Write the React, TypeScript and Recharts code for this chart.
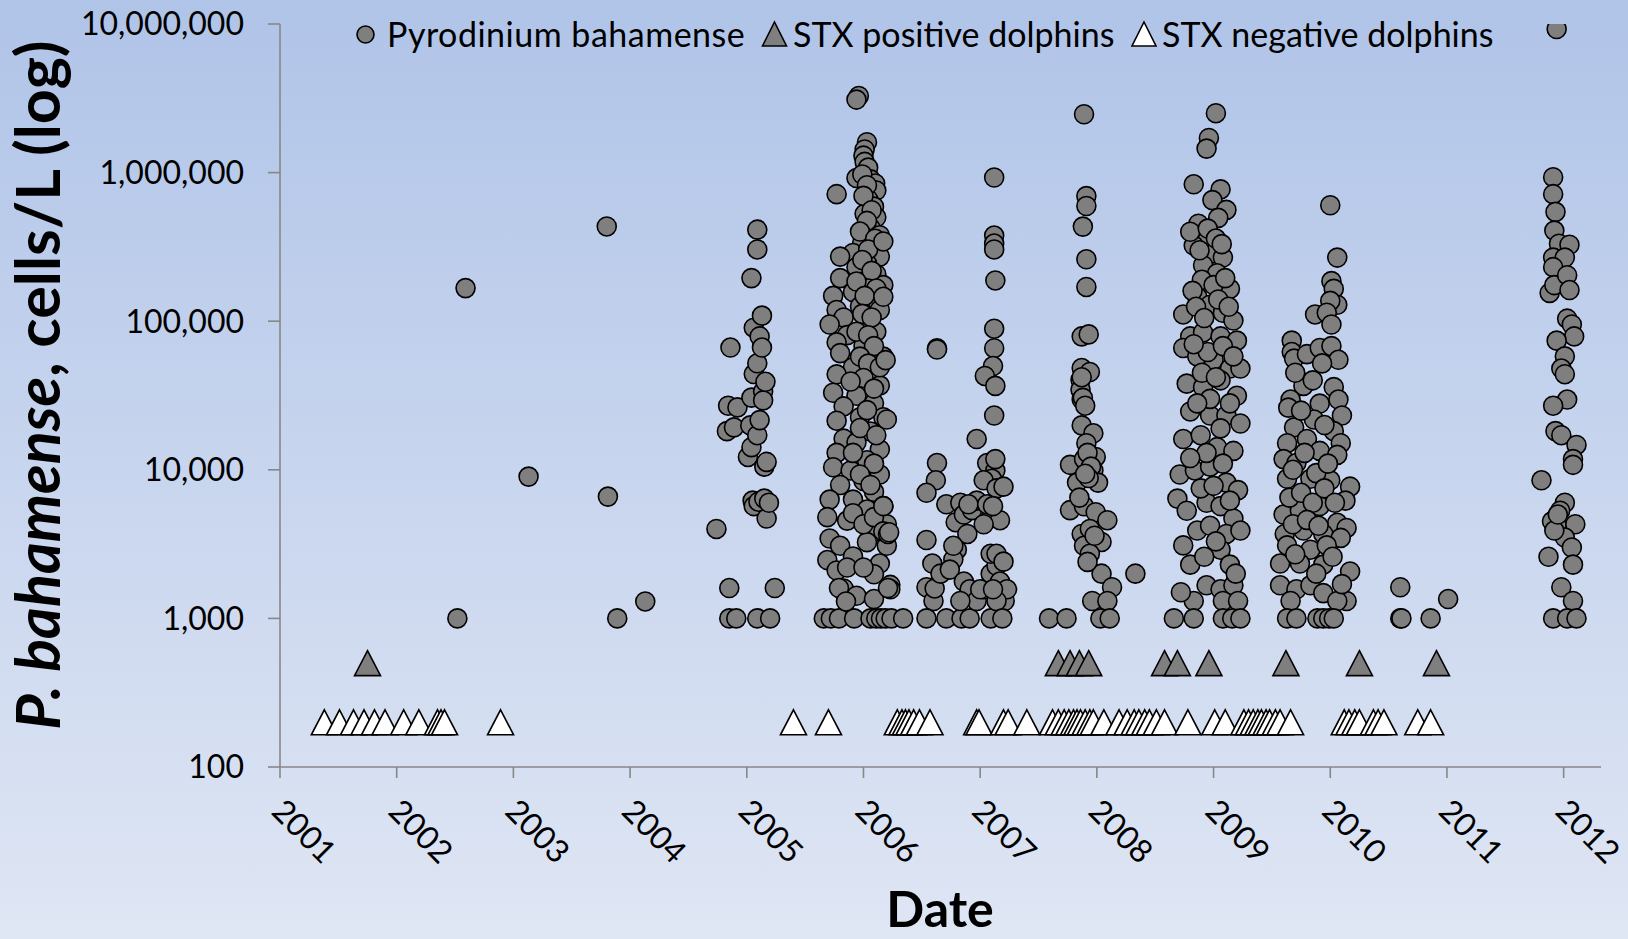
import React from "react";
import { ScatterChart, Scatter, XAxis, YAxis } from "recharts";

// Pyrodinium bahamense counts, [decimal year, cells/L]
const earlyCounts: [number, number][] = [
  [2002.52, 1000], [2002.59, 167000], [2003.13, 9000], [2003.8, 434000],
  [2003.81, 6600], [2003.89, 1000], [2004.13, 1300], [2004.74, 4000],
];

const bloom2005: [number, number][] = [
  [2004.83, 18200], [2004.84, 27000], [2004.85, 1600], [2004.85, 1000], [2004.86, 66500],
  [2004.89, 19300], [2004.91, 1000], [2004.92, 26300], [2005.01, 12200], [2005.03, 19900],
  [2005.04, 195000], [2005.04, 14200], [2005.04, 30600], [2005.05, 6200], [2005.06, 90400],
  [2005.06, 44100], [2005.06, 5700], [2005.09, 413000], [2005.09, 304000], [2005.09, 52100],
  [2005.09, 17100], [2005.09, 1000], [2005.1, 6100], [2005.11, 79000], [2005.11, 21600],
  [2005.13, 109000], [2005.13, 66500], [2005.14, 33600], [2005.14, 29300], [2005.15, 10500],
  [2005.15, 6400], [2005.16, 39100], [2005.17, 11300], [2005.17, 4700], [2005.19, 6000],
  [2005.2, 1000], [2005.24, 1600],
];

const bloom2006: [number, number][] = [
  [2005.96, 3280000], [2005.94, 3100000], [2006.03, 1600000], [2006.01, 1430000], [2006.0, 1300000],
  [2006.01, 1180000], [2006.04, 1080000], [2005.94, 919000], [2006.06, 900000], [2006.1, 845000],
  [2006.11, 757000], [2005.77, 716000], [2006.04, 659000], [2006.09, 590000], [2006.01, 528000],
  [2006.11, 500000], [2006.06, 424000], [2006.14, 379000], [2005.99, 340000], [2006.09, 321000],
  [2005.91, 288000], [2006.14, 272000], [2005.8, 272000], [2006.03, 244000], [2005.94, 231000],
  [2006.11, 207000], [2005.8, 195000], [2006.0, 185000], [2006.17, 175000], [2005.74, 148000],
  [2005.91, 157000], [2006.09, 140000], [2005.77, 119000], [2005.97, 126000], [2006.14, 119000],
  [2005.83, 106000], [2006.03, 101000], [2005.71, 95000], [2006.11, 85000], [2005.86, 80600],
  [2005.77, 72000], [2006.0, 68000], [2006.17, 57800], [2005.8, 61000], [2005.91, 49000],
  [2006.09, 46000], [2005.77, 43900], [2006.14, 37000], [2005.74, 33000], [2005.94, 31500],
  [2006.09, 28000], [2005.83, 26700], [2006.17, 22600], [2005.97, 22600], [2005.77, 21400],
  [2006.06, 18100], [2005.83, 16200], [2005.94, 15300], [2006.14, 13700], [2005.77, 13000],
  [2006.03, 11600], [2005.74, 10400], [2005.89, 9900], [2006.14, 9300], [2006.0, 8400],
  [2005.8, 7900], [2006.09, 7100], [2005.71, 6300], [2005.91, 6300], [2006.17, 5700],
  [2006.03, 5400], [2005.69, 4800], [2005.86, 4550], [2006.2, 4300], [2006.11, 3850],
  [2005.71, 3450], [2005.8, 3080], [2006.03, 3260], [2006.2, 3080], [2005.69, 2470],
  [2005.91, 2610], [2006.14, 2340], [2005.77, 2100], [2006.09, 1980], [2006.23, 1680],
  [2005.83, 1590], [2005.94, 1420], [2006.09, 1350],
  [2005.99, 971000], [2006.03, 822000], [2006.0, 697000], [2006.07, 558000], [2006.03, 473000],
  [2005.97, 401000], [2006.1, 359000], [2006.04, 304000], [2005.99, 258000], [2006.07, 218000],
  [2006.04, 166000], [2005.94, 185000], [2006.11, 166000], [2006.01, 148000], [2005.99, 112000],
  [2006.07, 106000], [2005.94, 85000], [2006.04, 80500], [2006.09, 68000], [2005.97, 57800],
  [2006.04, 51800], [2006.14, 49000], [2006.0, 41500], [2006.09, 35200], [2005.89, 39300],
  [2006.03, 25200], [2005.97, 19100], [2006.11, 17100], [2005.91, 13000], [2006.09, 11000],
  [2005.97, 9300], [2006.06, 7900], [2005.91, 5100], [2006.0, 4300], [2006.09, 4800],
  [2006.17, 3850], [2005.86, 2200], [2006.0, 2200],
  [2006.17, 344000], [2006.17, 146000], [2006.19, 54700], [2006.2, 21800], [2006.17, 5700],
  [2006.21, 3700], [2006.23, 1570], [2006.21, 1600], [2006.22, 3800], [2005.79, 1600],
  [2005.66, 1000], [2005.72, 1000], [2005.79, 1000], [2005.92, 1000], [2006.06, 1000],
  [2006.11, 1000], [2006.15, 1000], [2006.19, 1000], [2006.24, 1000], [2006.34, 1000],
  [2005.85, 1300],
];

const bloom2007: [number, number][] = [
  [2006.63, 65800], [2006.63, 64500], [2006.63, 11100], [2006.62, 8500], [2006.54, 7000],
  [2006.54, 3370], [2006.59, 2340], [2006.54, 1620], [2006.6, 1310], [2006.54, 1000],
  [2006.61, 1590], [2006.71, 1000], [2006.84, 1000], [2006.91, 1000], [2007.09, 1000],
  [2006.66, 2000], [2006.71, 5860], [2006.83, 6000], [2006.79, 4440], [2006.86, 5000],
  [2006.8, 2900], [2006.77, 2490], [2006.89, 3700], [2006.93, 5350], [2006.97, 6200],
  [2007.09, 4720], [2007.17, 4580], [2006.74, 2130], [2006.86, 1770], [2006.91, 1570],
  [2006.97, 1310], [2006.83, 1310], [2007.03, 1570], [2007.09, 2000], [2007.14, 2260],
  [2007.17, 1770], [2007.21, 1310], [2007.23, 1570], [2007.14, 1310], [2007.19, 1000],
  [2006.97, 16100], [2007.06, 11100], [2007.13, 9900], [2007.1, 8700], [2007.03, 8500],
  [2007.14, 7500], [2007.2, 7700], [2007.13, 11800],
  [2007.12, 927000], [2007.12, 377000], [2007.12, 333000], [2007.12, 304000], [2007.13, 188000],
  [2007.12, 89000], [2007.12, 65800], [2007.11, 49900], [2007.04, 42800], [2007.13, 36700],
  [2007.12, 23200],
  [2006.9, 5860], [2007.06, 5860], [2007.11, 5700], [2007.03, 4300], [2007.09, 2720],
  [2007.14, 2720], [2007.2, 2410], [2006.77, 3080], [2007.0, 1570], [2007.11, 1570],
];

const bloom2008: [number, number][] = [
  [2007.59, 1000], [2007.74, 1000], [2007.89, 2470000], [2007.91, 695000], [2007.91, 596000],
  [2007.88, 433000], [2007.91, 261000], [2007.91, 170000], [2007.87, 79000], [2007.93, 81500],
  [2007.87, 48400], [2007.94, 45500], [2007.86, 40300], [2007.86, 34600], [2007.87, 29700],
  [2007.87, 19900], [2007.97, 17600], [2007.91, 15100], [2007.99, 12200], [2007.77, 10800],
  [2007.89, 11800], [2007.97, 9900], [2007.83, 8200], [2008.01, 8200], [2007.77, 5350],
  [2007.89, 5680], [2007.99, 5180], [2008.09, 4580], [2007.87, 3700], [2007.89, 3080],
  [2008.04, 3270], [2007.94, 2720], [2008.04, 2000], [2008.13, 1620], [2007.96, 1310],
  [2008.09, 1310], [2008.03, 1000], [2008.11, 1000], [2008.33, 2000],
  [2007.88, 30500], [2007.9, 27000], [2007.87, 42000], [2007.92, 13000], [2007.95, 10500],
  [2007.93, 8800], [2007.9, 9400], [2007.85, 6500], [2007.94, 4000], [2007.98, 3600],
  [2007.92, 2400],
];

const bloom2009: [number, number][] = [
  [2009.02, 2510000], [2008.96, 1710000], [2008.94, 1450000], [2008.83, 834000], [2009.06, 771000],
  [2008.99, 653000], [2009.11, 561000], [2009.04, 496000], [2008.87, 453000], [2008.84, 365000],
  [2008.94, 344000], [2008.83, 323000], [2009.0, 286000], [2009.08, 268000], [2008.91, 238000],
  [2009.03, 210000], [2009.14, 165000], [2008.74, 111000], [2008.86, 146000], [2008.97, 129000],
  [2009.08, 114000], [2009.17, 101000], [2008.8, 79000], [2008.91, 84000], [2009.06, 79000],
  [2009.2, 74000], [2008.74, 66000], [2008.86, 58000], [2009.0, 55000], [2009.14, 48000],
  [2009.23, 48000], [2008.77, 38000], [2008.91, 36000], [2009.06, 40000], [2009.2, 31500],
  [2008.8, 24700], [2008.97, 23200], [2009.11, 23200], [2009.23, 20500], [2008.74, 16100],
  [2008.89, 17100], [2009.03, 14200], [2009.17, 13400], [2008.71, 9300], [2008.84, 9900],
  [2008.97, 10500], [2009.11, 8200], [2009.21, 7300], [2008.69, 6400], [2008.77, 5300],
  [2008.94, 6000], [2009.06, 5700], [2009.17, 4700], [2008.86, 3900], [2008.97, 4200],
  [2009.11, 3700], [2009.23, 3900], [2008.74, 3100], [2008.8, 2300], [2009.06, 2900],
  [2009.14, 2300], [2008.94, 1670], [2009.06, 1570], [2009.17, 1670], [2008.83, 1310],
  [2009.08, 1310], [2009.21, 1310], [2008.66, 1000], [2008.83, 1000], [2009.08, 1000],
  [2009.16, 1000], [2009.23, 1000],
  [2008.8, 400000], [2008.88, 300000], [2008.95, 420000], [2009.02, 360000], [2009.07, 330000],
  [2008.9, 190000], [2009.0, 175000], [2008.82, 160000], [2009.1, 195000], [2008.85, 125000],
  [2009.04, 140000], [2008.92, 105000], [2009.13, 125000], [2008.95, 62000], [2009.08, 68000],
  [2008.83, 70000], [2009.17, 58000], [2008.9, 45000], [2009.02, 42000], [2008.97, 30000],
  [2009.14, 28000], [2008.86, 28000], [2009.06, 19000], [2008.94, 13000], [2008.8, 12000],
  [2009.08, 11000], [2008.89, 7500], [2009.0, 7800], [2009.14, 6200], [2008.92, 2600],
  [2009.02, 3300], [2008.72, 1500], [2009.19, 2000],
];

const bloom2010: [number, number][] = [
  [2010.0, 603000], [2010.06, 268000], [2010.01, 186000], [2010.03, 165000], [2010.06, 129000],
  [2009.87, 111000], [2010.0, 137000], [2009.97, 114000], [2010.01, 95000], [2009.67, 74000],
  [2009.67, 62000], [2009.69, 56000], [2009.8, 60000], [2009.91, 66000], [2010.01, 68000],
  [2010.07, 55000], [2009.93, 52000], [2010.03, 36000], [2009.77, 36700], [2009.66, 29700],
  [2009.64, 26200], [2009.91, 27900], [2010.07, 29700], [2010.1, 23200], [2009.86, 21800],
  [2009.69, 19300], [2010.03, 18200], [2010.09, 15100], [2009.63, 15100], [2009.8, 16100],
  [2009.91, 13400], [2009.6, 11800], [2009.71, 11100], [2010.06, 12600], [2010.17, 7700],
  [2010.13, 6200], [2009.63, 8700], [2009.83, 8700], [2010.0, 8500], [2009.6, 5000],
  [2009.74, 5300], [2009.91, 5700], [2010.06, 4400], [2010.14, 4060], [2009.61, 3700],
  [2009.77, 3900], [2009.94, 3700], [2010.09, 3480], [2009.63, 3100], [2009.83, 2900],
  [2009.97, 3100], [2009.57, 2340], [2009.74, 2340], [2009.94, 2300], [2010.17, 2070],
  [2009.57, 1670], [2009.71, 1570], [2009.83, 1670], [2009.94, 1480], [2010.14, 1310],
  [2010.06, 1310], [2009.66, 1310], [2009.63, 1000], [2009.71, 1000], [2009.89, 1000],
  [2009.94, 1000], [2009.99, 1000], [2010.03, 1000],
  [2009.7, 45000], [2009.75, 25000], [2009.85, 40000], [2009.95, 20000], [2009.68, 10000],
  [2009.78, 13000], [2009.88, 9500], [2009.98, 11000], [2009.65, 6500], [2009.75, 7000],
  [2009.85, 6000], [2009.95, 7500], [2010.04, 6000], [2009.68, 4300], [2009.8, 4600],
  [2009.9, 4200], [2010.02, 2600], [2009.7, 2700], [2009.88, 2000], [2010.1, 1700],
];

const counts2011: [number, number][] = [
  [2010.6, 1620], [2010.6, 1000], [2010.61, 1000], [2010.86, 1000], [2011.01, 1350],
];

const bloom2012: [number, number][] = [
  [2011.94, 9250000], [2011.91, 931000], [2011.91, 716000], [2011.93, 544000], [2011.92, 407000],
  [2011.96, 332000], [2012.05, 327000], [2011.91, 268000], [2012.01, 268000], [2011.91, 231000],
  [2011.88, 155000], [2011.92, 175000], [2012.03, 204000], [2012.05, 162000], [2012.03, 104000],
  [2012.07, 95000], [2012.09, 79000], [2011.94, 74000], [2012.01, 58000], [2011.98, 48000],
  [2012.01, 44000], [2012.03, 29700], [2011.91, 27000], [2011.93, 18200], [2011.98, 17100],
  [2012.11, 14700], [2012.08, 11800], [2012.08, 10800], [2011.81, 8500], [2012.01, 6000],
  [2011.97, 5300], [2011.93, 4700], [2011.94, 4200], [2012.1, 4300], [2012.01, 3500],
  [2012.07, 3000], [2011.87, 2600], [2012.08, 2300], [2011.98, 1620], [2012.08, 1310],
  [2011.91, 1000], [2012.03, 1000], [2012.11, 1000], [2011.9, 4500], [2011.92, 3900],
  [2011.95, 5000],
];

// dolphin stranding dates; plotted at fixed levels
const STX_POSITIVE_LEVEL = 500;
const STX_NEGATIVE_LEVEL = 200;
const stxPositiveDates = [
  2001.75, 2007.67, 2007.77, 2007.85, 2007.93, 2008.58, 2008.69, 2008.96, 2009.62, 2010.25, 2010.91,
];
const stxNegativeDates = [
  2001.38, 2001.51, 2001.63, 2001.72, 2001.81, 2001.9, 2002.06, 2002.19, 2002.35, 2002.38,
  2002.41, 2002.89, 2005.4, 2005.7, 2006.29, 2006.33, 2006.36, 2006.39, 2006.43, 2006.48,
  2006.57, 2006.97, 2006.99, 2007.2, 2007.24, 2007.4, 2007.62, 2007.67, 2007.72, 2007.76,
  2007.8, 2007.83, 2007.86, 2007.9, 2007.94, 2007.97, 2008.06, 2008.19, 2008.26, 2008.32,
  2008.36, 2008.41, 2008.45, 2008.51, 2008.58, 2008.78, 2009.01, 2009.1, 2009.26, 2009.3,
  2009.34, 2009.38, 2009.41, 2009.45, 2009.48, 2009.53, 2009.57, 2009.66, 2010.12, 2010.16,
  2010.21, 2010.25, 2010.37, 2010.41, 2010.46, 2010.75, 2010.86,
];

const yearTicks = [2001, 2002, 2003, 2004, 2005, 2006, 2007, 2008, 2009, 2010, 2011, 2012];
const cellTicks = [100, 1000, 10000, 100000, 1000000, 10000000];

const FONT = "Lato, 'Liberation Sans', sans-serif";

const pyroData = [
  ...earlyCounts, ...bloom2005, ...bloom2006, ...bloom2007, ...bloom2008,
  ...bloom2009, ...bloom2010, ...counts2011, ...bloom2012,
].map(([x, y]) => ({ x, y }));
const positiveData = stxPositiveDates.map((x) => ({ x, y: STX_POSITIVE_LEVEL }));
const negativeData = stxNegativeDates.map((x) => ({ x, y: STX_NEGATIVE_LEVEL }));

function renderCircle(props: any) {
  const { cx, cy } = props;
  if (cx == null || cy == null) return <g />;
  return <circle cx={cx} cy={cy} r={9.5} fill="#7f7f7f" stroke="#000" strokeWidth={1.6} />;
}

function triangleShape(fill: string) {
  return (props: any) => {
    const { cx, cy } = props;
    if (cx == null || cy == null) return <g />;
    const w = 26;
    const h = 25;
    return (
      <polygon
        points={`${cx},${cy - h / 2} ${cx + w / 2},${cy + h / 2} ${cx - w / 2},${cy + h / 2}`}
        fill={fill}
        stroke="#000"
        strokeWidth={1.6}
      />
    );
  };
}

function XTick({ x, y, payload }: any) {
  const tx = x - 10;
  const ty = y + 35;
  return (
    <text x={tx} y={ty} transform={`rotate(45, ${tx}, ${ty})`} fontSize={32} fontFamily={FONT} fill="#000">
      {payload.value}
    </text>
  );
}

function renderYTitle() {
  return (
    <text
      x={60}
      y={385}
      transform="rotate(-90, 60, 385)"
      textAnchor="middle"
      fontFamily={FONT}
      fontWeight={700}
      fontSize={61}
      fill="#000"
    >
      <tspan fontStyle="italic">P. bahamense</tspan>, cells/L (log)
    </text>
  );
}

function renderXTitle() {
  return (
    <text x={940} y={927} textAnchor="middle" fontFamily={FONT} fontWeight={700} fontSize={50} fill="#000">
      Date
    </text>
  );
}

function LegendOverlay() {
  const tri = (cx: number, fill: string) => (
    <polygon
      points={`${cx},${22} ${cx + 12},${46} ${cx - 12},${46}`}
      fill={fill}
      stroke="#000"
      strokeWidth={1.6}
    />
  );
  return (
    <svg width={1628} height={70} style={{ position: "absolute", left: 0, top: 0 }}>
      <circle cx={365.5} cy={34.5} r={8.5} fill="#7f7f7f" stroke="#000" strokeWidth={1.6} />
      <text x={387} y={46.5} fontFamily={FONT} fontSize={34} letterSpacing={0.5} fill="#000">
        Pyrodinium bahamense
      </text>
      {tri(774.5, "#7f7f7f")}
      <text x={793} y={46.5} fontFamily={FONT} fontSize={34} fill="#000">STX positive dolphins</text>
      {tri(1144, "#ffffff")}
      <text x={1162} y={46.5} fontFamily={FONT} fontSize={34} fill="#000">STX negative dolphins</text>
    </svg>
  );
}

export default function App() {
  return (
    <div
      style={{
        position: "absolute",
        left: 0,
        top: 0,
        width: 1628,
        height: 939,
        overflow: "hidden",
        background: "linear-gradient(to bottom, #b0c4e8 0%, #dfe6f4 100%)",
      }}
    >
      <ScatterChart width={1628} height={939} margin={{ top: 24, right: 27, bottom: 22, left: 0 }}>
        <XAxis
          type="number"
          dataKey="x"
          domain={[2001, 2012.32]}
          ticks={yearTicks}
          interval={0}
          height={150}
          tickSize={11}
          tickMargin={0}
          tick={<XTick />}
          axisLine={{ stroke: "#878787", strokeWidth: 1.6 }}
          tickLine={{ stroke: "#878787", strokeWidth: 1.6 }}
          label={renderXTitle}
        />
        <YAxis
          type="number"
          dataKey="y"
          scale="log"
          domain={[100, 10000000]}
          ticks={cellTicks}
          interval={0}
          allowDataOverflow
          width={280}
          tickSize={12}
          tickMargin={24}
          tickFormatter={(v: number) => v.toLocaleString("en-US")}
          tick={{ fontSize: 32, fontFamily: FONT, fill: "#000" }}
          axisLine={{ stroke: "#878787", strokeWidth: 1.6 }}
          tickLine={{ stroke: "#878787", strokeWidth: 1.6 }}
          label={renderYTitle}
        />
        <Scatter data={pyroData} shape={renderCircle} isAnimationActive={false} />
        <Scatter data={positiveData} shape={triangleShape("#7f7f7f")} isAnimationActive={false} />
        <Scatter data={negativeData} shape={triangleShape("#ffffff")} isAnimationActive={false} />
      </ScatterChart>
      <LegendOverlay />
    </div>
  );
}
